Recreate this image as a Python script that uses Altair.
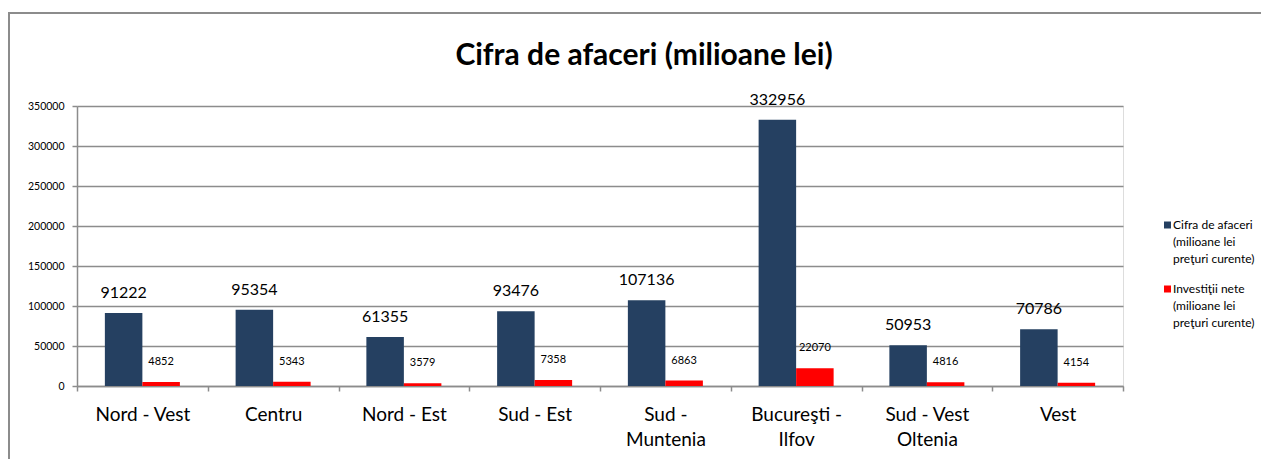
import json
import altair as alt
import pandas as pd

categories = ["Nord - Vest", "Centru", "Nord - Est", "Sud - Est", "Sud - Muntenia",
              "Bucureşti - Ilfov", "Sud - Vest Oltenia", "Vest"]
cifra = [91222, 95354, 61355, 93476, 107136, 332956, 50953, 70786]
investitii = [4852, 5343, 3579, 7358, 6863, 22070, 4816, 4154]
series_names = ["Cifra de afaceri (milioane lei preţuri curente)",
                "Investiţii nete (milioane lei preţuri curente)"]
legend_lines = [["Cifra de afaceri", "(milioane lei", "preţuri curente)"],
                ["Investiţii nete", "(milioane lei", "preţuri curente)"]]
colors = ["#254061", "#FF0000"]
y_ticks = [0, 50000, 100000, 150000, 200000, 250000, 300000, 350000]
title_text = "Cifra de afaceri (milioane lei)"

cat_wrap = {
    "Sud - Muntenia": ["Sud -", "Muntenia"],
    "Bucureşti - Ilfov": ["Bucureşti -", "Ilfov"],
    "Sud - Vest Oltenia": ["Sud - Vest", "Oltenia"],
}


def wrap_expr(mapping):
    expr = "datum.label"
    for k, v in mapping.items():
        expr = f"datum.label == {json.dumps(k, ensure_ascii=False)} ? {json.dumps(v, ensure_ascii=False)} : ({expr})"
    return expr


rows = []
for c, a, b in zip(categories, cifra, investitii):
    rows.append({"region": c, "series": series_names[0], "value": a})
    rows.append({"region": c, "series": series_names[1], "value": b})
df = pd.DataFrame(rows)
one = pd.DataFrame({"k": [0]})

FONT = "Lato"
GRID = "#8c8c8c"

base = alt.Chart(df).encode(
    x=alt.X("region:N", sort=categories,
            scale=alt.Scale(paddingInner=0, paddingOuter=0),
            axis=alt.Axis(title=None, labelAngle=0, labelExpr=wrap_expr(cat_wrap),
                          tickBand="extent", labelFontSize=19, labelFont=FONT,
                          labelColor="black", labelPadding=14, labelLineHeight=25,
                          labelBaseline="top", domainColor=GRID, tickColor=GRID,
                          tickSize=5, domainWidth=1.5, tickWidth=1.5, grid=False,
                          labelOverlap=False)),
    xOffset=alt.XOffset("series:N", sort=series_names,
                        scale=alt.Scale(paddingOuter=0.743, paddingInner=0)),
    y=alt.Y("value:Q", scale=alt.Scale(domain=[0, 350000], nice=False),
            axis=alt.Axis(title=None, values=y_ticks, format="d", grid=True,
                          gridColor=GRID, gridWidth=1.3, domainColor=GRID,
                          domainWidth=1.5, tickColor=GRID, tickSize=5, tickWidth=1.5,
                          labelFont=FONT, labelFontSize=10.5, labelColor="black",
                          labelPadding=8, labelOverlap=False)),
)

bars = base.mark_bar().encode(
    color=alt.Color("series:N", sort=series_names,
                    scale=alt.Scale(domain=series_names, range=colors),
                    legend=None),
)

labels_big = base.mark_text(dy=-20, fontSize=16, font=FONT, color="black",
                            baseline="middle").encode(
    text=alt.Text("value:Q", format="d")
).transform_filter(alt.datum.series == series_names[0])

labels_small = base.mark_text(dy=-20, fontSize=11, font=FONT, color="black",
                              baseline="middle").encode(
    text=alt.Text("value:Q", format="d")
).transform_filter(alt.datum.series == series_names[1])

border_top = alt.Chart(one).mark_rule(color=GRID, strokeWidth=2).encode(
    x=alt.value(-69), x2=alt.value(1184), y=alt.value(-93))
border_left = alt.Chart(one).mark_rule(color=GRID, strokeWidth=2).encode(
    x=alt.value(-68), y=alt.value(-93), y2=alt.value(360))

title = alt.Chart(one).mark_text(fontSize=30, font=FONT, fontWeight="bold",
                                 color="black", align="center",
                                 baseline="alphabetic").encode(
    x=alt.value(567), y=alt.value(-41), text=alt.value(title_text))

legend_layers = []
for i, (lines, col) in enumerate(zip(legend_lines, colors)):
    yc = 119 + i * 64
    legend_layers.append(alt.Chart(one).mark_square(size=49, color=col, opacity=1).encode(
        x=alt.value(1090.5), y=alt.value(yc)))
    legend_layers.append(alt.Chart(one).mark_text(fontSize=12, font=FONT, color="black",
                                                  align="left", baseline="alphabetic",
                                                  lineHeight=17).encode(
        x=alt.value(1096), y=alt.value(yc + 4), text=alt.value(lines)))

chart = alt.layer(border_top, border_left, bars, labels_big, labels_small, title,
                  *legend_layers).properties(
    width=1046, height=280,
    autosize=alt.AutoSizeParams(type="none"),
    padding={"left": 69, "top": 98, "right": 138, "bottom": 73},
).configure_view(stroke=None).configure(background="white")

chart.save("out.html", embed_options={"renderer": "svg", "actions": False})
